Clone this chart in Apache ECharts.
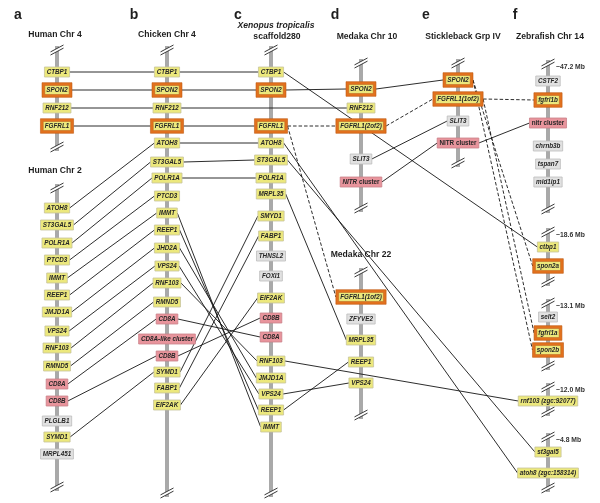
<!DOCTYPE html>
<html><head><meta charset="utf-8">
<script src="https://cdn.jsdelivr.net/npm/echarts@6/dist/echarts.min.js"></script>
<style>html,body{margin:0;padding:0;background:#fff}#c{width:600px;height:503px}</style>
</head><body><div id="c"></div>
<script>
// ================= DATA =================
// gene order positions along each chromosome (vertical units), kinds: y=yellow, o=orange-framed, p=pink, g=grey
const h4Genes = ['CTBP1','SPON2','RNF212','FGFRL1'];
const h4Pos   = [72,90,108,126];
const h4Kind  = ['y','o','y','o'];

const h2Genes = ['ATOH8','ST3GAL5','POLR1A','PTCD3','IMMT','REEP1','JMJD1A','VPS24','RNF103','RMND5','CD8A','CD8B','PLGLB1','SYMD1','MRPL451'];
const h2Pos   = [208,225,243,260,278,295,312,331,348,366,384,401,421,437,454];
const h2Kind  = ['y','y','y','y','y','y','y','y','y','y','p','p','g','y','g'];

const bGenes = ['CTBP1','SPON2','RNF212','FGFRL1','ATOH8','ST3GAL5','POLR1A','PTCD3','IMMT','REEP1','JHD2A','VPS24','RNF103','RMND5','CD8A','CD8A-like cluster','CD8B','SYMD1','FABP1','EIF2AK'];
const bPos   = [72,90,108,126,143,162,178,196,213,230,248,266,283,302,319,339,356,372,388,405];
const bKind  = ['y','o','y','o','y','y','y','y','y','y','y','y','y','y','p','p','p','y','y','y'];

const cGenes = ['CTBP1','SPON2','FGFRL1','ATOH8','ST3GAL5','POLR1A','MRPL35','SMYD1','FABP1','THNSL2','FOXI1','EIF2AK','CD8B','CD8A','RNF103','JMJD1A','VPS24','REEP1','IMMT'];
const cPos   = [72,90,126,143,160,178,194,216,236,256,276,298,318,337,361,378,394,410,427];
const cKind  = ['y','o','o','y','y','y','y','y','y','g','g','y','p','p','y','y','y','y','y'];

const d10Genes = ['SPON2','RNF212','FGFRL1(2of2)','SLIT3','NITR cluster'];
const d10Pos   = [89,108,126,159,182];
const d10Kind  = ['o','y','o','g','p'];

const d22Genes = ['FGFRL1(1of2)','ZFYVE2','MRPL35','REEP1','VPS24'];
const d22Pos   = [297,319,340,362,383];
const d22Kind  = ['o','g','y','y','y'];

const eGenes = ['SPON2','FGFRL1(1of2)','SLIT3','NITR cluster'];
const ePos   = [80,99,121,143];
const eKind  = ['o','o','g','p'];

const fGenes = ['CSTF2','fgfrl1b','nitr cluster','chrnb3b','tspan7','mid1ip1','ctbp1','spon2a','selt2','fgfrl1a','spon2b','rnf103 (zgc:92077)','st3gal5','atoh8 (zgc:158314)'];
const fPos   = [81,100,123,146,164,182,247,266,317,333,350,401,452,473];
const fKind  = ['g','o','p','g','g','g','y','o','g','o','o','y','y','y'];

// chromosome segments [top break, bottom break]
const h4Segs  = [[50,147]];
const h2Segs  = [[188,487]];
const bSegs   = [[50,493]];
const cSegs   = [[50,493]];
const d10Segs = [[63,208]];
const d22Segs = [[272,415]];
const eSegs   = [[63,163]];
const fSegs   = [[64,209],[232,282],[303,366],[387,412],[437,488]];
const fSegLabels = ['~47.2 Mb','~18.6 Mb','~13.1 Mb','~12.0 Mb','~4.8 Mb'];

// connections: [chromA, geneA, chromB, geneB, dashed]
const links = [
  ['h4','CTBP1','b','CTBP1',0],['h4','SPON2','b','SPON2',0],['h4','RNF212','b','RNF212',0],['h4','FGFRL1','b','FGFRL1',0],
  ['b','CTBP1','c','CTBP1',0],['b','SPON2','c','SPON2',0],['b','FGFRL1','c','FGFRL1',0],['b','RNF212','d10','RNF212',0],
  ['h2','ATOH8','b','ATOH8',0],['h2','ST3GAL5','b','ST3GAL5',0],['h2','POLR1A','b','POLR1A',0],['h2','PTCD3','b','PTCD3',0],
  ['h2','IMMT','b','IMMT',0],['h2','REEP1','b','REEP1',0],['h2','JMJD1A','b','JHD2A',0],['h2','VPS24','b','VPS24',0],
  ['h2','RNF103','b','RNF103',0],['h2','RMND5','b','RMND5',0],['h2','CD8A','b','CD8A',0],['h2','CD8B','b','CD8B',0],['h2','SYMD1','b','SYMD1',0],
  ['b','ATOH8','c','ATOH8',0],['b','ST3GAL5','c','ST3GAL5',0],['b','POLR1A','c','POLR1A',0],['b','IMMT','c','IMMT',0],
  ['b','REEP1','c','REEP1',0],['b','JHD2A','c','JMJD1A',0],['b','VPS24','c','VPS24',0],['b','RNF103','c','RNF103',0],
  ['b','CD8A','c','CD8A',0],['b','CD8B','c','CD8B',0],['b','SYMD1','c','SMYD1',0],['b','FABP1','c','FABP1',0],['b','EIF2AK','c','EIF2AK',0],
  ['c','SPON2','d10','SPON2',0],['c','FGFRL1','d10','FGFRL1(2of2)',1],['c','FGFRL1','d22','FGFRL1(1of2)',1],
  ['c','CTBP1','f','ctbp1',0],['c','ATOH8','f','atoh8 (zgc:158314)',0],['c','ST3GAL5','f','st3gal5',0],
  ['c','MRPL35','d22','MRPL35',0],['c','REEP1','d22','REEP1',0],['c','VPS24','d22','VPS24',0],['c','RNF103','f','rnf103 (zgc:92077)',0],
  ['d10','SPON2','e','SPON2',0],['d10','FGFRL1(2of2)','e','FGFRL1(1of2)',1],['d10','SLIT3','e','SLIT3',0],['d10','NITR cluster','e','NITR cluster',0],
  ['e','FGFRL1(1of2)','f','fgfrl1b',1],['e','NITR cluster','f','nitr cluster',0],
  ['e','SPON2','f','spon2a',1],['e','SPON2','f','spon2b',1],['e','FGFRL1(1of2)','f','fgfrl1a',1]
];

// ================= LAYOUT / STYLE =================
const colX = {h4:57, h2:57, b:167, c:271, d10:361, d22:361, e:458, f:548};
const chroms = [
  {id:'h4', g:h4Genes, p:h4Pos, k:h4Kind, s:h4Segs},
  {id:'h2', g:h2Genes, p:h2Pos, k:h2Kind, s:h2Segs},
  {id:'b', g:bGenes, p:bPos, k:bKind, s:bSegs},
  {id:'c', g:cGenes, p:cPos, k:cKind, s:cSegs},
  {id:'d10', g:d10Genes, p:d10Pos, k:d10Kind, s:d10Segs},
  {id:'d22', g:d22Genes, p:d22Pos, k:d22Kind, s:d22Segs},
  {id:'e', g:eGenes, p:ePos, k:eKind, s:eSegs},
  {id:'f', g:fGenes, p:fPos, k:fKind, s:fSegs}
];
const FAM = '"Liberation Sans", Arial, Helvetica, sans-serif';
const FS = 7;
const SX = 0.9; // horizontal text compression
const fontBI = 'italic bold ' + FS + 'px ' + FAM;
const fontB = 'bold ' + FS + 'px ' + FAM;
const plainLabels = {'e|NITR cluster':1, 'f|nitr cluster':1};
const mixedLabels = {'d10|NITR cluster':1};
const fills = {y:'#ece87c', o:'#ece87c', p:'#e8949c', g:'#e1e1e1'};
const strokes = {y:'#c6c39c', o:'#c6c39c', p:'#c98089', g:'#bdbdbd'};

const mctx = document.createElement('canvas').getContext('2d');
function tw(font, t){ mctx.font = font; return mctx.measureText(t).width; }

const boxes = [];
const boxIndex = {};
chroms.forEach(ch => {
  ch.g.forEach((name, i) => {
    const key = ch.id + '|' + name;
    let w;
    if (mixedLabels[key]) w = tw(fontBI, 'NITR') + tw(fontB, ' cluster');
    else if (plainLabels[key]) w = tw(fontB, name);
    else w = tw(fontBI, name);
    w *= SX;
    const orange = ch.k[i] === 'o';
    w += orange ? 3 : 4.5;
    const b = {chrom: ch.id, name, x: colX[ch.id], y: ch.p[i], kind: ch.k[i], w, orange, key,
               half: w/2 + (orange ? 2.8 : 0)};
    boxIndex[key] = b;
    boxes.push(b);
  });
});

const axisData = [], breakData = [];
chroms.forEach(ch => ch.s.forEach(s => {
  axisData.push([colX[ch.id], s[0]-4, s[1]+4]);
  breakData.push([colX[ch.id], s[0]]);
  breakData.push([colX[ch.id], s[1]]);
}));

const linkData = links.map(l => {
  const a = boxIndex[l[0]+'|'+l[1]], b = boxIndex[l[2]+'|'+l[3]];
  return [a.x + a.half, a.y, b.x - b.half, b.y, l[4]];
});

const mbData = fSegs.map((s, i) => [colX.f + 8, s[0] + 3.5, fSegLabels[i]]);

const titles = [
  [18,15,'a','letter'],[134,15,'b','letter'],[238,15,'c','letter'],[335,15,'d','letter'],[426,15,'e','letter'],[515,15,'f','letter'],
  [55,35,'Human Chr 4','t'],[55,171,'Human Chr 2','t'],[167,35,'Chicken Chr 4','t'],
  [276,26,'Xenopus tropicalis','ti'],[277,37,'scaffold280','t'],
  [367,37,'Medaka Chr 10','t'],[463,37,'Stickleback Grp IV','t'],[550,37,'Zebrafish Chr 14','t'],[361,255,'Medaka Chr 22','t']
];

// ================= CHART =================
const chart = echarts.init(document.getElementById('c'), null, {renderer:'canvas'});
const option = {
  animation: false,
  backgroundColor: '#fff',
  grid: {left:0, right:0, top:0, bottom:0},
  xAxis: {type:'value', min:0, max:600, show:false},
  yAxis: {type:'value', min:0, max:503, inverse:true, show:false},
  series: [
    { // chromosome bars
      type:'custom', z:1, silent:true, data: axisData, encode:{x:0, y:[1,2]},
      renderItem: (p, api) => {
        const a = api.coord([api.value(0), api.value(1)]), b = api.coord([api.value(0), api.value(2)]);
        return {type:'line', shape:{x1:a[0], y1:a[1], x2:b[0], y2:b[1]}, style:{stroke:'#a9a9a9', lineWidth:4}};
      }
    },
    { // break marks
      type:'custom', z:2, silent:true, data: breakData, encode:{x:0, y:1},
      renderItem: (p, api) => {
        const c = api.coord([api.value(0), api.value(1)]);
        const x = c[0], y = c[1];
        return {type:'group', children:[
          {type:'line', shape:{x1:x-6, y1:y+3.3, x2:x+6, y2:y-3.3}, style:{stroke:'#fff', lineWidth:3}},
          {type:'line', shape:{x1:x-6.5, y1:y+1.9, x2:x+6.5, y2:y-5.0}, style:{stroke:'#222', lineWidth:0.9}},
          {type:'line', shape:{x1:x-6.5, y1:y+5.0, x2:x+6.5, y2:y-1.9}, style:{stroke:'#222', lineWidth:0.9}}
        ]};
      }
    },
    { // synteny connections
      type:'custom', z:3, silent:true, data: linkData, encode:{x:[0,2], y:[1,3]},
      renderItem: (p, api) => {
        const a = api.coord([api.value(0), api.value(1)]), b = api.coord([api.value(2), api.value(3)]);
        const dashed = api.value(4) === 1;
        return {type:'line', shape:{x1:a[0], y1:a[1], x2:b[0], y2:b[1]},
          style:{stroke:'#151515', lineWidth:0.9, lineDash: dashed ? [3.5,2] : null}};
      }
    },
    { // gene boxes
      type:'custom', z:4, silent:true, data: boxes.map(b => [b.x, b.y]), encode:{x:0, y:1},
      renderItem: (p, api) => {
        const b = boxes[p.dataIndex];
        const c = api.coord([api.value(0), api.value(1)]);
        const x = c[0], y = c[1];
        const h = b.orange ? 9 : 10, w = b.w;
        const ch = [];
        if (b.orange) {
          ch.push({type:'rect', shape:{x:x-w/2-2.8, y:y-h/2-2.8, width:w+5.6, height:h+5.6}, style:{fill:'#e2711d', stroke:'#c05a14', lineWidth:0.6}});
        }
        ch.push({type:'rect', shape:{x:x-w/2, y:y-h/2, width:w, height:h},
          style:{fill:fills[b.kind], stroke: b.orange ? '#b8601e' : strokes[b.kind], lineWidth: b.orange ? 0.5 : 0.8}});
        let ts;
        if (mixedLabels[b.key]) {
          ts = {text:'{i|NITR}{n| cluster}', rich:{
            i:{fontStyle:'italic', fontWeight:'bold', fontSize:FS, fontFamily:FAM, fill:'#262626'},
            n:{fontWeight:'bold', fontSize:FS, fontFamily:FAM, fill:'#262626'}}};
        } else {
          ts = {text:b.name, font: plainLabels[b.key] ? fontB : fontBI};
        }
        ch.push({type:'text', x:x, y:y+0.3, scaleX:SX, style:Object.assign({align:'center', verticalAlign:'middle', fill:'#262626'}, ts)});
        return {type:'group', children:ch};
      }
    },
    { // Mb labels
      type:'custom', z:5, silent:true, data: mbData, encode:{x:0, y:1},
      renderItem: (p, api) => {
        const d = mbData[p.dataIndex];
        const c = api.coord([d[0], d[1]]);
        return {type:'text', x:c[0], y:c[1], style:{text:d[2], font:'bold 6.8px ' + FAM, fill:'#333', align:'left', verticalAlign:'middle'}};
      }
    },
    { // titles
      type:'custom', z:5, silent:true, data: titles.map(t => [t[0], t[1]]), encode:{x:0, y:1},
      renderItem: (p, api) => {
        const t = titles[p.dataIndex];
        const c = api.coord([t[0], t[1]]);
        let font = 'bold 8.6px ' + FAM;
        if (t[3] === 'letter') font = 'bold 14px ' + FAM;
        if (t[3] === 'ti') font = 'italic bold 8.6px ' + FAM;
        return {type:'text', x:c[0], y:c[1], style:{text:t[2], font, fill:'#1e1e1e', align:'center', verticalAlign:'middle'}};
      }
    }
  ]
};
chart.setOption(option);
</script>
</body></html>
